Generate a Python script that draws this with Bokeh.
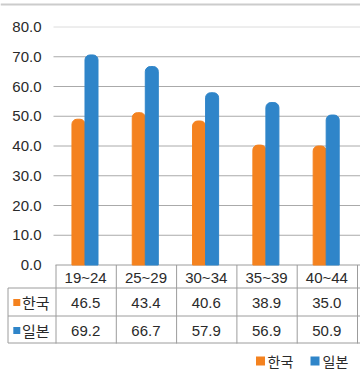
import numpy as np
from bokeh.plotting import figure
from bokeh.models import Range1d, BoxAnnotation
from bokeh.core.properties import value
from bokeh.embed import file_html
from bokeh.resources import INLINE

# ---------------- data ----------------
categories = ["19~24", "25~29", "30~34", "35~39", "40~44"]
series_names = ["한국", "일본"]
korea_bars = [49.0, 51.2, 48.4, 40.3, 40.0]
japan_bars = [70.6, 66.7, 57.9, 54.6, 50.4]
korea_table = ["46.5", "43.4", "40.6", "38.9", "35.0"]
japan_table = ["69.2", "66.7", "57.9", "56.9", "50.9"]
y_ticks = [0, 10, 20, 30, 40, 50, 60, 70, 80]

# ---------------- style / layout ----------------
ORANGE = "#F4821F"
BLUE = "#2F85C9"
TEXT = "#2a2a2a"
GRID = "#aaaaaa"
BORDER = "#9c9c9c"
NUM_FONT = value("Liberation Sans")
KR_FONT = value("Noto Sans CJK KR")

W, H = 360, 378
LEFT = 55          # px where the plotting area starts
CAT_W = 60.3       # px per category
PX = 2.975         # px per value unit
ZERO = 264.5       # px from top where value 0 sits


def gx(px):   # page x (px) -> data x
    return (px - LEFT) / CAT_W


def gy(py):   # page y (px) -> data y
    return (ZERO - py) / PX


idx = np.arange(len(categories))
x_end = gx(W)

p = figure(width=W, height=H, output_backend="svg", toolbar_location=None,
           x_range=Range1d(gx(0), x_end), y_range=Range1d(gy(H), gy(0)),
           x_axis_location=None, y_axis_location=None, min_border=0,
           outline_line_color=None)
p.grid.visible = False

# thin line at the very top (spans the whole width)
p.add_layout(BoxAnnotation(top=gy(3), bottom=gy(5), fill_color="#cccccc",
                           fill_alpha=1.0, line_color=None))

# value axis: labels and grid lines
p.text(x=[gx(41)] * len(y_ticks), y=y_ticks, text=[f"{t:.1f}" for t in y_ticks],
       text_font=NUM_FONT, text_font_size="15px", text_color=TEXT,
       text_align="right", text_baseline="middle")
p.segment(x0=[gx(53)] * (len(y_ticks) - 2), x1=[x_end] * (len(y_ticks) - 2),
          y0=y_ticks[1:-1], y1=y_ticks[1:-1], line_color=GRID, line_width=1)
p.segment(x0=[gx(53)], x1=[x_end], y0=[y_ticks[-1]], y1=[y_ticks[-1]],
          line_color="#dcdcdc", line_width=1)
p.segment(x0=[0], x1=[x_end], y0=[y_ticks[0]], y1=[y_ticks[0]],
          line_color=BORDER, line_width=1)

# bars
p.vbar(x=idx + 0.381, top=korea_bars, bottom=0, width=0.216, color=ORANGE,
       border_radius=(5, 5, 0, 0))
p.vbar(x=idx + 0.597, top=japan_bars, bottom=0, width=0.216, color=BLUE,
       border_radius=(5, 5, 0, 0))

# ---------------- data table ----------------
bounds = np.arange(len(categories) + 1) + 0.5 / CAT_W
p.segment(x0=bounds, y0=[0] * len(bounds), x1=bounds, y1=[gy(343)] * len(bounds),
          line_color=BORDER, line_width=1)
p.text(x=idx + 0.5, y=[gy(276.5)] * len(categories), text=categories,
       text_font=NUM_FONT, text_font_size="15px", text_color=TEXT,
       text_align="center", text_baseline="middle")

rules = [gy(287.5), gy(315.5), gy(342.5)]
p.segment(x0=[gx(7.5)] * 3, x1=[x_end] * 3, y0=rules, y1=rules,
          line_color=BORDER, line_width=1)
p.segment(x0=[gx(7.5)], x1=[gx(7.5)], y0=[gy(287.5)], y1=[gy(342.5)],
          line_color=BORDER, line_width=1)

row_centers = [302.0, 330.0]
for name, vals, col, cy in zip(series_names, [korea_table, japan_table],
                               [ORANGE, BLUE], row_centers):
    p.text(x=idx + 0.5, y=[gy(cy)] * len(vals), text=vals, text_font=NUM_FONT,
           text_font_size="15px", text_color=TEXT, text_align="center",
           text_baseline="middle")
    p.scatter(x=[gx(16.3)], y=[gy(cy)], marker="square", size=7, color=col,
              line_color=None)
    p.text(x=[gx(21.5)], y=[gy(cy)], text=[name], text_font=KR_FONT,
           text_font_size="15px", text_color=TEXT, text_align="left",
           text_baseline="middle")

# bottom legend
leg_cy = 360.5
leg_sq = [gx(260), gx(314.5)]
leg_tx = [gx(267), gx(322)]
for name, col, sx, tx in zip(series_names, [ORANGE, BLUE], leg_sq, leg_tx):
    p.scatter(x=[sx], y=[gy(leg_cy)], marker="square", size=9, color=col,
              line_color=None)
    p.text(x=[tx], y=[gy(leg_cy)], text=[name], text_font=KR_FONT,
           text_font_size="14px", text_color=TEXT, text_align="left",
           text_baseline="middle")

open("out.html", "w").write(file_html(p, INLINE))
